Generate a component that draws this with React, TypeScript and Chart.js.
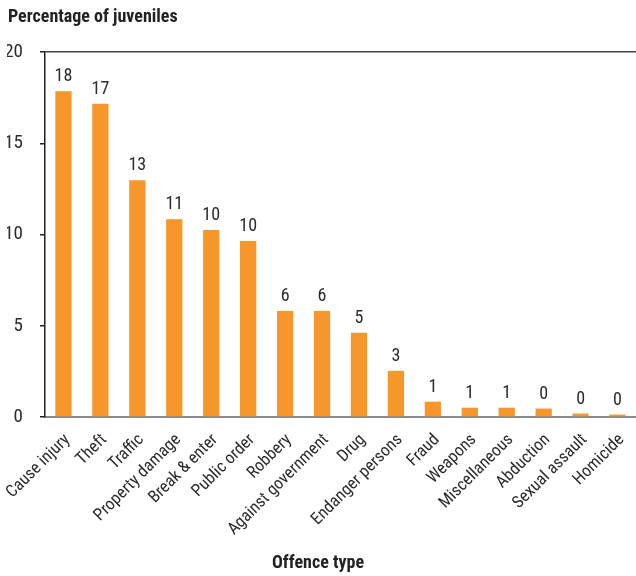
import React, { useEffect, useRef } from "react";
import { Chart, registerables } from "chart.js";

Chart.register(...registerables);

const categories = [
  "Cause injury", "Theft", "Traffic", "Property damage", "Break & enter", "Public order",
  "Robbery", "Against government", "Drug", "Endanger persons", "Fraud", "Weapons",
  "Miscellaneous", "Abduction", "Sexual assault", "Homicide",
];
const values = [17.85, 17.17, 12.97, 10.84, 10.24, 9.64, 5.81, 5.81, 4.61, 2.53, 0.84, 0.51, 0.51, 0.46, 0.19, 0.13];
const yTicks = [0, 5, 10, 15, 20];
const yTitle = "Percentage of juveniles";
const xTitle = "Offence type";

const FONT = "'Roboto Condensed', 'Liberation Sans', Arial, sans-serif";

export default function App() {
  const ref = useRef<HTMLCanvasElement | null>(null);
  useEffect(() => {
    if (!ref.current) return;
    const labelPlugin = {
      id: "valueLabels",
      afterDatasetsDraw(chart: any) {
        const ctx = chart.ctx;
        const meta = chart.getDatasetMeta(0);
        ctx.save();
        ctx.font = `18px ${FONT}`;
        ctx.fillStyle = "#2b2b2b";
        ctx.textAlign = "center";
        ctx.textBaseline = "alphabetic";
        meta.data.forEach((bar: any, i: number) => {
          ctx.fillText(String(Math.round(values[i])), bar.x, bar.y - 10);
        });
        ctx.restore();
      },
      afterDraw(chart: any) {
        const ctx = chart.ctx;
        ctx.save();
        ctx.font = `bold 18px ${FONT}`;
        ctx.fillStyle = "#222";
        ctx.textAlign = "left";
        ctx.textBaseline = "alphabetic";
        ctx.fillText(yTitle, 8, 22);
        ctx.textAlign = "center";
        ctx.textBaseline = "middle";
        ctx.fillText(xTitle, chart.width / 2, 563);
        ctx.restore();
      },
    };
    const chart = new Chart(ref.current, {
      type: "bar",
      data: {
        labels: categories,
        datasets: [
          {
            data: values,
            backgroundColor: "#F7962A",
            barPercentage: 0.44,
            categoryPercentage: 1,
          },
        ],
      },
      options: {
        responsive: false,
        animation: false,
        layout: { padding: { left: 7, right: 0, top: 52, bottom: 4 } },
        plugins: { legend: { display: false }, tooltip: { enabled: false }, title: { display: false } },
        scales: {
          x: {
            afterFit: (s: any) => {
              s.paddingLeft = 0;
              s.paddingRight = 0;
              s.height = 576 - 417 - 4;
            },
            grid: { display: false, drawTicks: false },
            border: { display: true, color: "#8a8a8a", width: 2 },
            ticks: {
              autoSkip: false,
              minRotation: 45,
              maxRotation: 45,
              padding: 13,
              labelOffset: 4,
              color: "#2b2b2b",
              font: { family: FONT, size: 17 },
            },
            title: { display: false },
          },
          y: {
            min: 0,
            max: 20,
            afterFit: (s: any) => {
              s.width = 38;
            },
            afterBuildTicks: (s: any) => {
              s.ticks = yTicks.map((v) => ({ value: v }));
            },
            grid: {
              drawOnChartArea: true,
              color: (c: any) => (c.tick && c.tick.value === 20 ? "#444" : "rgba(0,0,0,0)"),
              tickColor: "#222",
              tickLength: 5,
              lineWidth: 1.5,
            },
            border: { display: true, color: "#222", width: 1.5 },
            ticks: {
              padding: 17,
              color: "#2b2b2b",
              font: { family: FONT, size: 19 },
            },
          },
        },
      },
      plugins: [labelPlugin],
    });
    return () => chart.destroy();
  }, []);
  return (
    <div style={{ position: "absolute", left: 0, top: 0, width: 636, height: 576, background: "#fff" }}>
      <canvas ref={ref} width={636} height={576} />
    </div>
  );
}
